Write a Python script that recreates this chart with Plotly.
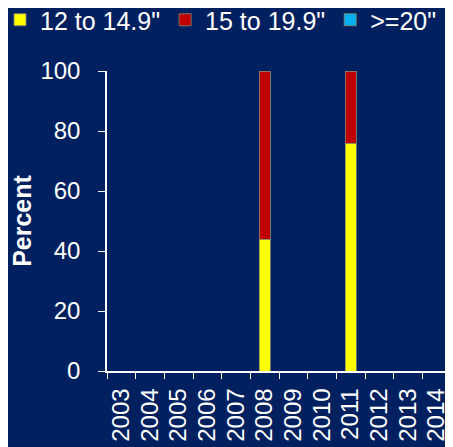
import plotly.graph_objects as go

years = [str(y) for y in range(2003, 2015)]
s_12_149 = [None, None, None, None, None, 44, None, None, 76, None, None, None]
s_15_199 = [None, None, None, None, None, 56, None, None, 24, None, None, None]
s_20 = [None] * 12

names = ['12 to 14.9"', '15 to 19.9"', '>=20"']
colors = ["#FFFF00", "#C00000", "#00B0F0"]
series = [s_12_149, s_15_199, s_20]

fig = go.Figure()
for n, c, s in zip(names, colors, series):
    fig.add_trace(go.Bar(x=years, y=s, name=n, marker=dict(color=c, line=dict(color="#8c8c6a", width=0.8))))

bg = "#002060"
fig.update_layout(
    width=453, height=447,
    paper_bgcolor=bg, plot_bgcolor=bg,
    barmode="stack", bargap=0.605,
    margin=dict(l=99, r=10, t=63, b=84, autoexpand=False),
    font=dict(family="Liberation Sans, Arial", color="white", size=24),
    legend=dict(orientation="h", x=-0.311, xanchor="left", y=1.17, yanchor="middle",
                font=dict(size=25), traceorder="normal",
                itemclick=False, bgcolor="rgba(0,0,0,0)"),
    showlegend=True,
)
fig.update_xaxes(type="category", tickmode="array", tickvals=years, ticktext=years,
                 tickangle=-90, tickson="boundaries", ticks="outside",
                 ticklen=6, tickcolor="white", showline=True, linecolor="white", linewidth=1.5,
                 showgrid=False, tickfont=dict(size=24), ticklabelstandoff=6)
fig.update_yaxes(range=[0, 100], dtick=20, ticks="outside", ticklen=7, tickcolor="white",
                 showline=True, linecolor="white", linewidth=1.5, showgrid=False, zeroline=False,
                 tickfont=dict(size=24), ticklabelstandoff=13,
                 title=dict(text="<b>Percent</b>", font=dict(size=25), standoff=16))
fig.write_html("out.html")
